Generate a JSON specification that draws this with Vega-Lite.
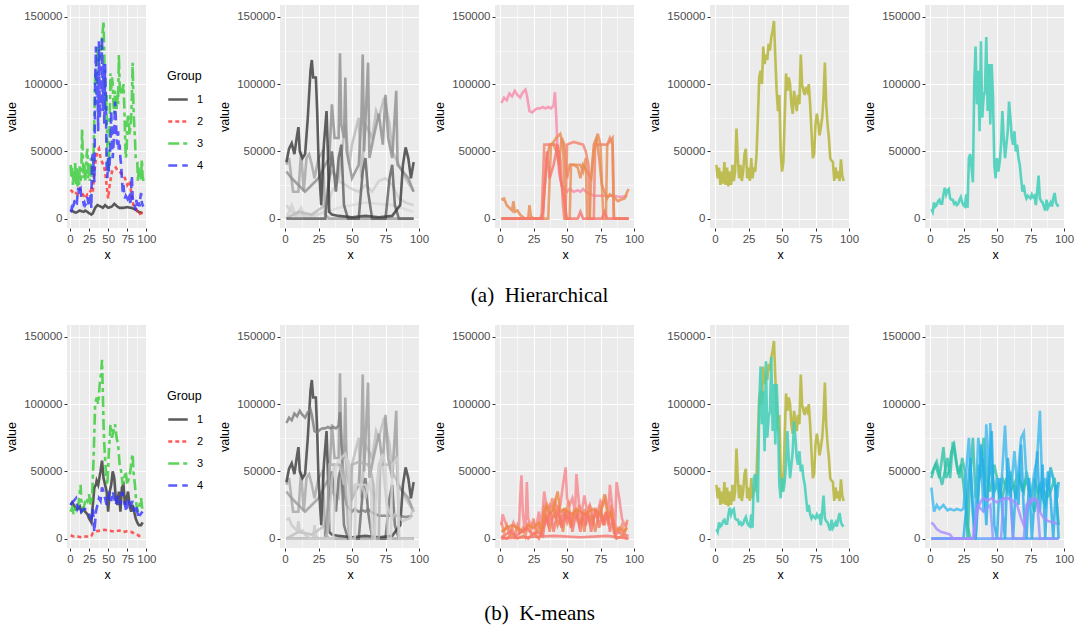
{
"$schema": "https://vega.github.io/schema/vega-lite/v6.json",
"background": "white",
"padding": {"left": 5, "top": 5, "right": 3, "bottom": 5},
"datasets": {"d": [
{"s":"h1","x":1,"v":5000},{"s":"h1","x":3,"v":6000},{"s":"h1","x":5,"v":5000},{"s":"h1","x":8,"v":4500},{"s":"h1","x":10,"v":5000},{"s":"h1","x":13,"v":6000},{"s":"h1","x":15,"v":5500},{"s":"h1","x":18,"v":5000},{"s":"h1","x":20,"v":6000},{"s":"h1","x":23,"v":5000},{"s":"h1","x":25,"v":4000},{"s":"h1","x":28,"v":3000},{"s":"h1","x":30,"v":4000},{"s":"h1","x":33,"v":8000},{"s":"h1","x":36,"v":10000},{"s":"h1","x":40,"v":9000},{"s":"h1","x":43,"v":8000},{"s":"h1","x":46,"v":10000},{"s":"h1","x":50,"v":8000},{"s":"h1","x":55,"v":9000},{"s":"h1","x":58,"v":11000},{"s":"h1","x":62,"v":9000},{"s":"h1","x":65,"v":8000},{"s":"h1","x":70,"v":8000},{"s":"h1","x":75,"v":8500},{"s":"h1","x":80,"v":8000},{"s":"h1","x":85,"v":7000},{"s":"h1","x":90,"v":5000},{"s":"h1","x":95,"v":4000},
{"s":"h2","x":1,"v":21500},{"s":"h2","x":3,"v":20000},{"s":"h2","x":5,"v":21000},{"s":"h2","x":8,"v":19000},{"s":"h2","x":10,"v":18000},{"s":"h2","x":13,"v":22000},{"s":"h2","x":15,"v":20000},{"s":"h2","x":18,"v":17000},{"s":"h2","x":20,"v":15000},{"s":"h2","x":23,"v":18000},{"s":"h2","x":25,"v":18000},{"s":"h2","x":28,"v":22000},{"s":"h2","x":30,"v":20000},{"s":"h2","x":32,"v":35000},{"s":"h2","x":34,"v":45000},{"s":"h2","x":36,"v":50000},{"s":"h2","x":38,"v":52000},{"s":"h2","x":40,"v":45000},{"s":"h2","x":42,"v":42000},{"s":"h2","x":44,"v":40000},{"s":"h2","x":46,"v":35000},{"s":"h2","x":48,"v":25000},{"s":"h2","x":50,"v":15000},{"s":"h2","x":52,"v":25000},{"s":"h2","x":55,"v":35000},{"s":"h2","x":58,"v":37000},{"s":"h2","x":60,"v":38000},{"s":"h2","x":62,"v":36000},{"s":"h2","x":65,"v":35000},{"s":"h2","x":68,"v":33000},{"s":"h2","x":70,"v":32000},{"s":"h2","x":72,"v":30000},{"s":"h2","x":75,"v":25000},{"s":"h2","x":78,"v":28000},{"s":"h2","x":80,"v":20000},{"s":"h2","x":83,"v":10000},{"s":"h2","x":86,"v":8000},{"s":"h2","x":90,"v":3000},{"s":"h2","x":93,"v":4000},{"s":"h2","x":95,"v":5000},
{"s":"o","x":1,"v":40000},{"s":"o","x":2,"v":30000},{"s":"o","x":3,"v":38000},{"s":"o","x":4,"v":25000},{"s":"o","x":5,"v":35000},{"s":"o","x":6,"v":26000},{"s":"o","x":7,"v":42000},{"s":"o","x":8,"v":25000},{"s":"o","x":9,"v":38000},{"s":"o","x":10,"v":24000},{"s":"o","x":11,"v":35000},{"s":"o","x":12,"v":25000},{"s":"o","x":13,"v":40000},{"s":"o","x":14,"v":28000},{"s":"o","x":15,"v":35000},{"s":"o","x":16,"v":67000},{"s":"o","x":17,"v":45000},{"s":"o","x":18,"v":30000},{"s":"o","x":19,"v":40000},{"s":"o","x":20,"v":28000},{"s":"o","x":21,"v":35000},{"s":"o","x":22,"v":48000},{"s":"o","x":23,"v":52000},{"s":"o","x":24,"v":30000},{"s":"o","x":25,"v":38000},{"s":"o","x":26,"v":28000},{"s":"o","x":27,"v":45000},{"s":"o","x":28,"v":30000},{"s":"o","x":29,"v":38000},{"s":"o","x":30,"v":35000},{"s":"o","x":31,"v":48000},{"s":"o","x":32,"v":75000},{"s":"o","x":33,"v":105000},{"s":"o","x":34,"v":110000},{"s":"o","x":35,"v":100000},{"s":"o","x":36,"v":128000},{"s":"o","x":37,"v":115000},{"s":"o","x":38,"v":122000},{"s":"o","x":39,"v":118000},{"s":"o","x":40,"v":130000},{"s":"o","x":41,"v":125000},{"s":"o","x":42,"v":135000},{"s":"o","x":43,"v":140000},{"s":"o","x":44,"v":147000},{"s":"o","x":45,"v":120000},{"s":"o","x":46,"v":95000},{"s":"o","x":47,"v":80000},{"s":"o","x":48,"v":92000},{"s":"o","x":49,"v":50000},{"s":"o","x":50,"v":35000},{"s":"o","x":51,"v":42000},{"s":"o","x":52,"v":75000},{"s":"o","x":53,"v":108000},{"s":"o","x":54,"v":95000},{"s":"o","x":55,"v":105000},{"s":"o","x":56,"v":100000},{"s":"o","x":57,"v":85000},{"s":"o","x":58,"v":78000},{"s":"o","x":59,"v":95000},{"s":"o","x":60,"v":88000},{"s":"o","x":61,"v":80000},{"s":"o","x":62,"v":92000},{"s":"o","x":63,"v":85000},{"s":"o","x":64,"v":122000},{"s":"o","x":65,"v":100000},{"s":"o","x":66,"v":95000},{"s":"o","x":67,"v":92000},{"s":"o","x":68,"v":98000},{"s":"o","x":69,"v":95000},{"s":"o","x":70,"v":100000},{"s":"o","x":71,"v":85000},{"s":"o","x":72,"v":65000},{"s":"o","x":73,"v":45000},{"s":"o","x":74,"v":48000},{"s":"o","x":75,"v":70000},{"s":"o","x":76,"v":78000},{"s":"o","x":77,"v":72000},{"s":"o","x":78,"v":62000},{"s":"o","x":79,"v":68000},{"s":"o","x":80,"v":75000},{"s":"o","x":81,"v":90000},{"s":"o","x":82,"v":116000},{"s":"o","x":83,"v":85000},{"s":"o","x":84,"v":70000},{"s":"o","x":85,"v":60000},{"s":"o","x":86,"v":45000},{"s":"o","x":87,"v":43000},{"s":"o","x":88,"v":42000},{"s":"o","x":89,"v":28000},{"s":"o","x":90,"v":38000},{"s":"o","x":91,"v":30000},{"s":"o","x":92,"v":35000},{"s":"o","x":93,"v":28000},{"s":"o","x":94,"v":44000},{"s":"o","x":95,"v":32000},{"s":"o","x":96,"v":28000},
{"s":"t","x":1,"v":7000},{"s":"t","x":2,"v":5000},{"s":"t","x":3,"v":12000},{"s":"t","x":4,"v":9000},{"s":"t","x":5,"v":10000},{"s":"t","x":6,"v":13000},{"s":"t","x":7,"v":14000},{"s":"t","x":8,"v":11000},{"s":"t","x":9,"v":11000},{"s":"t","x":10,"v":18000},{"s":"t","x":11,"v":23000},{"s":"t","x":12,"v":18000},{"s":"t","x":13,"v":21000},{"s":"t","x":14,"v":22000},{"s":"t","x":15,"v":15000},{"s":"t","x":16,"v":14000},{"s":"t","x":17,"v":14000},{"s":"t","x":18,"v":11000},{"s":"t","x":19,"v":12000},{"s":"t","x":20,"v":10000},{"s":"t","x":21,"v":11000},{"s":"t","x":22,"v":14000},{"s":"t","x":23,"v":16000},{"s":"t","x":24,"v":12000},{"s":"t","x":25,"v":10000},{"s":"t","x":26,"v":9000},{"s":"t","x":27,"v":18000},{"s":"t","x":28,"v":8000},{"s":"t","x":29,"v":45000},{"s":"t","x":30,"v":48000},{"s":"t","x":31,"v":38000},{"s":"t","x":32,"v":27000},{"s":"t","x":33,"v":100000},{"s":"t","x":34,"v":128000},{"s":"t","x":35,"v":85000},{"s":"t","x":36,"v":110000},{"s":"t","x":37,"v":65000},{"s":"t","x":38,"v":132000},{"s":"t","x":39,"v":75000},{"s":"t","x":40,"v":90000},{"s":"t","x":41,"v":95000},{"s":"t","x":42,"v":135000},{"s":"t","x":43,"v":80000},{"s":"t","x":44,"v":115000},{"s":"t","x":45,"v":70000},{"s":"t","x":46,"v":115000},{"s":"t","x":47,"v":90000},{"s":"t","x":48,"v":40000},{"s":"t","x":49,"v":30000},{"s":"t","x":50,"v":45000},{"s":"t","x":51,"v":35000},{"s":"t","x":52,"v":42000},{"s":"t","x":53,"v":55000},{"s":"t","x":54,"v":80000},{"s":"t","x":55,"v":60000},{"s":"t","x":56,"v":45000},{"s":"t","x":57,"v":55000},{"s":"t","x":58,"v":65000},{"s":"t","x":59,"v":87000},{"s":"t","x":60,"v":75000},{"s":"t","x":61,"v":60000},{"s":"t","x":62,"v":55000},{"s":"t","x":63,"v":65000},{"s":"t","x":64,"v":50000},{"s":"t","x":65,"v":55000},{"s":"t","x":66,"v":45000},{"s":"t","x":67,"v":40000},{"s":"t","x":68,"v":30000},{"s":"t","x":69,"v":20000},{"s":"t","x":70,"v":25000},{"s":"t","x":71,"v":18000},{"s":"t","x":72,"v":15000},{"s":"t","x":73,"v":17000},{"s":"t","x":74,"v":16000},{"s":"t","x":75,"v":15000},{"s":"t","x":76,"v":18000},{"s":"t","x":77,"v":16000},{"s":"t","x":78,"v":17000},{"s":"t","x":79,"v":10000},{"s":"t","x":80,"v":20000},{"s":"t","x":81,"v":32000},{"s":"t","x":82,"v":15000},{"s":"t","x":83,"v":13000},{"s":"t","x":84,"v":12000},{"s":"t","x":85,"v":9000},{"s":"t","x":86,"v":6000},{"s":"t","x":87,"v":14000},{"s":"t","x":88,"v":8000},{"s":"t","x":89,"v":10000},{"s":"t","x":90,"v":12000},{"s":"t","x":91,"v":9000},{"s":"t","x":92,"v":15000},{"s":"t","x":93,"v":19000},{"s":"t","x":94,"v":12000},{"s":"t","x":95,"v":10000},{"s":"t","x":96,"v":9000},
{"s":"k1","x":1,"v":25000},{"s":"k1","x":3,"v":27000},{"s":"k1","x":5,"v":25000},{"s":"k1","x":8,"v":22000},{"s":"k1","x":10,"v":22000},{"s":"k1","x":13,"v":24000},{"s":"k1","x":15,"v":20000},{"s":"k1","x":18,"v":22000},{"s":"k1","x":20,"v":20000},{"s":"k1","x":23,"v":18000},{"s":"k1","x":25,"v":15000},{"s":"k1","x":28,"v":12000},{"s":"k1","x":30,"v":25000},{"s":"k1","x":32,"v":38000},{"s":"k1","x":34,"v":40000},{"s":"k1","x":35,"v":43000},{"s":"k1","x":37,"v":40000},{"s":"k1","x":40,"v":50000},{"s":"k1","x":42,"v":58000},{"s":"k1","x":44,"v":45000},{"s":"k1","x":46,"v":40000},{"s":"k1","x":48,"v":35000},{"s":"k1","x":50,"v":20000},{"s":"k1","x":52,"v":35000},{"s":"k1","x":54,"v":40000},{"s":"k1","x":56,"v":50000},{"s":"k1","x":58,"v":45000},{"s":"k1","x":60,"v":30000},{"s":"k1","x":62,"v":25000},{"s":"k1","x":64,"v":35000},{"s":"k1","x":66,"v":20000},{"s":"k1","x":68,"v":38000},{"s":"k1","x":70,"v":40000},{"s":"k1","x":72,"v":25000},{"s":"k1","x":74,"v":30000},{"s":"k1","x":76,"v":35000},{"s":"k1","x":78,"v":25000},{"s":"k1","x":80,"v":20000},{"s":"k1","x":82,"v":25000},{"s":"k1","x":84,"v":20000},{"s":"k1","x":86,"v":15000},{"s":"k1","x":88,"v":12000},{"s":"k1","x":90,"v":10000},{"s":"k1","x":93,"v":10000},{"s":"k1","x":95,"v":12000},
{"s":"k2","x":1,"v":2500},{"s":"k2","x":5,"v":1500},{"s":"k2","x":10,"v":1500},{"s":"k2","x":15,"v":1000},{"s":"k2","x":20,"v":1500},{"s":"k2","x":25,"v":1500},{"s":"k2","x":28,"v":2000},{"s":"k2","x":30,"v":4000},{"s":"k2","x":33,"v":5000},{"s":"k2","x":35,"v":5500},{"s":"k2","x":40,"v":6000},{"s":"k2","x":45,"v":6500},{"s":"k2","x":50,"v":6000},{"s":"k2","x":55,"v":5500},{"s":"k2","x":60,"v":5500},{"s":"k2","x":65,"v":6000},{"s":"k2","x":70,"v":5000},{"s":"k2","x":75,"v":5500},{"s":"k2","x":80,"v":5000},{"s":"k2","x":85,"v":3500},{"s":"k2","x":88,"v":3000},{"s":"k2","x":90,"v":2000},{"s":"k2","x":95,"v":2000},
{"s":"k3","x":1,"v":20000},{"s":"k3","x":3,"v":23000},{"s":"k3","x":5,"v":18000},{"s":"k3","x":7,"v":22000},{"s":"k3","x":9,"v":20000},{"s":"k3","x":11,"v":25000},{"s":"k3","x":13,"v":35000},{"s":"k3","x":14,"v":40000},{"s":"k3","x":15,"v":28000},{"s":"k3","x":17,"v":22000},{"s":"k3","x":19,"v":25000},{"s":"k3","x":21,"v":30000},{"s":"k3","x":23,"v":28000},{"s":"k3","x":25,"v":33000},{"s":"k3","x":27,"v":25000},{"s":"k3","x":29,"v":30000},{"s":"k3","x":31,"v":60000},{"s":"k3","x":32,"v":80000},{"s":"k3","x":33,"v":100000},{"s":"k3","x":35,"v":105000},{"s":"k3","x":37,"v":100000},{"s":"k3","x":39,"v":115000},{"s":"k3","x":41,"v":125000},{"s":"k3","x":42,"v":133000},{"s":"k3","x":43,"v":110000},{"s":"k3","x":44,"v":85000},{"s":"k3","x":45,"v":70000},{"s":"k3","x":47,"v":50000},{"s":"k3","x":49,"v":40000},{"s":"k3","x":51,"v":65000},{"s":"k3","x":53,"v":85000},{"s":"k3","x":55,"v":75000},{"s":"k3","x":57,"v":80000},{"s":"k3","x":59,"v":85000},{"s":"k3","x":61,"v":75000},{"s":"k3","x":63,"v":70000},{"s":"k3","x":65,"v":55000},{"s":"k3","x":67,"v":50000},{"s":"k3","x":69,"v":40000},{"s":"k3","x":71,"v":45000},{"s":"k3","x":73,"v":50000},{"s":"k3","x":75,"v":40000},{"s":"k3","x":77,"v":45000},{"s":"k3","x":79,"v":50000},{"s":"k3","x":81,"v":60000},{"s":"k3","x":82,"v":63000},{"s":"k3","x":83,"v":50000},{"s":"k3","x":85,"v":40000},{"s":"k3","x":87,"v":25000},{"s":"k3","x":89,"v":20000},{"s":"k3","x":91,"v":25000},{"s":"k3","x":93,"v":30000},{"s":"k3","x":95,"v":20000},
{"s":"k4","x":1,"v":25000},{"s":"k4","x":5,"v":28000},{"s":"k4","x":8,"v":30000},{"s":"k4","x":10,"v":22000},{"s":"k4","x":13,"v":25000},{"s":"k4","x":15,"v":20000},{"s":"k4","x":18,"v":22000},{"s":"k4","x":20,"v":22000},{"s":"k4","x":22,"v":20000},{"s":"k4","x":25,"v":18000},{"s":"k4","x":28,"v":15000},{"s":"k4","x":30,"v":22000},{"s":"k4","x":32,"v":5000},{"s":"k4","x":34,"v":20000},{"s":"k4","x":36,"v":25000},{"s":"k4","x":38,"v":30000},{"s":"k4","x":40,"v":28000},{"s":"k4","x":42,"v":38000},{"s":"k4","x":44,"v":35000},{"s":"k4","x":46,"v":30000},{"s":"k4","x":48,"v":25000},{"s":"k4","x":50,"v":30000},{"s":"k4","x":52,"v":35000},{"s":"k4","x":54,"v":28000},{"s":"k4","x":56,"v":35000},{"s":"k4","x":58,"v":30000},{"s":"k4","x":60,"v":25000},{"s":"k4","x":62,"v":30000},{"s":"k4","x":64,"v":32000},{"s":"k4","x":66,"v":25000},{"s":"k4","x":68,"v":35000},{"s":"k4","x":70,"v":30000},{"s":"k4","x":72,"v":25000},{"s":"k4","x":74,"v":20000},{"s":"k4","x":76,"v":28000},{"s":"k4","x":78,"v":30000},{"s":"k4","x":80,"v":25000},{"s":"k4","x":82,"v":28000},{"s":"k4","x":84,"v":20000},{"s":"k4","x":86,"v":25000},{"s":"k4","x":88,"v":20000},{"s":"k4","x":90,"v":15000},{"s":"k4","x":92,"v":18000},{"s":"k4","x":95,"v":20000},
{"s":"gd","x":1,"v":10000},{"s":"gd","x":5,"v":5000},{"s":"gd","x":10,"v":3000},{"s":"gd","x":20,"v":2000},{"s":"gd","x":30,"v":5000},{"s":"gd","x":35,"v":20000},{"s":"gd","x":40,"v":28000},{"s":"gd","x":45,"v":25000},{"s":"gd","x":50,"v":22000},{"s":"gd","x":55,"v":20000},{"s":"gd","x":60,"v":25000},{"s":"gd","x":65,"v":20000},{"s":"gd","x":70,"v":28000},{"s":"gd","x":75,"v":30000},{"s":"gd","x":80,"v":25000},{"s":"gd","x":85,"v":15000},{"s":"gd","x":90,"v":12000},{"s":"gd","x":96,"v":10000},
{"s":"gf","x":1,"v":3000},{"s":"gf","x":20,"v":1000},{"s":"gf","x":40,"v":8000},{"s":"gf","x":60,"v":12000},{"s":"gf","x":80,"v":10000},{"s":"gf","x":96,"v":5000},
{"s":"gh","x":1,"v":0},{"s":"gh","x":5,"v":10000},{"s":"gh","x":8,"v":2000},{"s":"gh","x":12,"v":8000},{"s":"gh","x":15,"v":0},{"s":"gh","x":96,"v":0},
{"s":"gc","x":1,"v":0},{"s":"gc","x":10,"v":5000},{"s":"gc","x":20,"v":3000},{"s":"gc","x":30,"v":10000},{"s":"gc","x":33,"v":30000},{"s":"gc","x":35,"v":35000},{"s":"gc","x":40,"v":30000},{"s":"gc","x":45,"v":70000},{"s":"gc","x":48,"v":40000},{"s":"gc","x":50,"v":55000},{"s":"gc","x":55,"v":75000},{"s":"gc","x":57,"v":30000},{"s":"gc","x":60,"v":70000},{"s":"gc","x":65,"v":60000},{"s":"gc","x":68,"v":80000},{"s":"gc","x":70,"v":75000},{"s":"gc","x":74,"v":90000},{"s":"gc","x":76,"v":80000},{"s":"gc","x":78,"v":70000},{"s":"gc","x":80,"v":50000},{"s":"gc","x":85,"v":40000},{"s":"gc","x":90,"v":30000},{"s":"gc","x":96,"v":20000},
{"s":"ge","x":1,"v":40000},{"s":"ge","x":3,"v":45000},{"s":"ge","x":6,"v":20000},{"s":"ge","x":10,"v":20000},{"s":"ge","x":12,"v":50000},{"s":"ge","x":14,"v":20000},{"s":"ge","x":16,"v":45000},{"s":"ge","x":18,"v":48000},{"s":"ge","x":20,"v":40000},{"s":"ge","x":22,"v":30000},{"s":"ge","x":25,"v":45000},{"s":"ge","x":28,"v":50000},{"s":"ge","x":30,"v":3000},{"s":"ge","x":33,"v":0},{"s":"ge","x":40,"v":0},{"s":"ge","x":60,"v":0},{"s":"ge","x":96,"v":0},
{"s":"gb","x":1,"v":35000},{"s":"gb","x":5,"v":30000},{"s":"gb","x":10,"v":25000},{"s":"gb","x":15,"v":20000},{"s":"gb","x":20,"v":25000},{"s":"gb","x":25,"v":30000},{"s":"gb","x":30,"v":40000},{"s":"gb","x":33,"v":45000},{"s":"gb","x":35,"v":85000},{"s":"gb","x":37,"v":60000},{"s":"gb","x":40,"v":60000},{"s":"gb","x":41,"v":123000},{"s":"gb","x":42,"v":70000},{"s":"gb","x":44,"v":60000},{"s":"gb","x":45,"v":105000},{"s":"gb","x":46,"v":50000},{"s":"gb","x":50,"v":30000},{"s":"gb","x":55,"v":40000},{"s":"gb","x":57,"v":75000},{"s":"gb","x":58,"v":122000},{"s":"gb","x":59,"v":50000},{"s":"gb","x":62,"v":116000},{"s":"gb","x":63,"v":45000},{"s":"gb","x":66,"v":60000},{"s":"gb","x":70,"v":78000},{"s":"gb","x":73,"v":55000},{"s":"gb","x":75,"v":92000},{"s":"gb","x":77,"v":60000},{"s":"gb","x":80,"v":45000},{"s":"gb","x":83,"v":95000},{"s":"gb","x":84,"v":40000},{"s":"gb","x":88,"v":35000},{"s":"gb","x":92,"v":30000},{"s":"gb","x":96,"v":20000},
{"s":"gg","x":1,"v":0},{"s":"gg","x":30,"v":0},{"s":"gg","x":33,"v":30000},{"s":"gg","x":35,"v":50000},{"s":"gg","x":38,"v":20000},{"s":"gg","x":40,"v":45000},{"s":"gg","x":42,"v":55000},{"s":"gg","x":44,"v":10000},{"s":"gg","x":47,"v":0},{"s":"gg","x":55,"v":0},{"s":"gg","x":58,"v":35000},{"s":"gg","x":60,"v":45000},{"s":"gg","x":62,"v":20000},{"s":"gg","x":65,"v":0},{"s":"gg","x":75,"v":0},{"s":"gg","x":78,"v":30000},{"s":"gg","x":80,"v":40000},{"s":"gg","x":82,"v":10000},{"s":"gg","x":85,"v":0},{"s":"gg","x":96,"v":0},
{"s":"ga","x":1,"v":42000},{"s":"ga","x":3,"v":52000},{"s":"ga","x":5,"v":56000},{"s":"ga","x":7,"v":48000},{"s":"ga","x":9,"v":62000},{"s":"ga","x":10,"v":68000},{"s":"ga","x":11,"v":50000},{"s":"ga","x":13,"v":45000},{"s":"ga","x":15,"v":48000},{"s":"ga","x":17,"v":75000},{"s":"ga","x":19,"v":110000},{"s":"ga","x":20,"v":118000},{"s":"ga","x":21,"v":105000},{"s":"ga","x":23,"v":105000},{"s":"ga","x":24,"v":80000},{"s":"ga","x":25,"v":45000},{"s":"ga","x":27,"v":10000},{"s":"ga","x":29,"v":55000},{"s":"ga","x":31,"v":80000},{"s":"ga","x":32,"v":50000},{"s":"ga","x":33,"v":5000},{"s":"ga","x":35,"v":3000},{"s":"ga","x":40,"v":2000},{"s":"ga","x":50,"v":1000},{"s":"ga","x":60,"v":2000},{"s":"ga","x":70,"v":1000},{"s":"ga","x":80,"v":2000},{"s":"ga","x":86,"v":10000},{"s":"ga","x":88,"v":40000},{"s":"ga","x":90,"v":53000},{"s":"ga","x":92,"v":45000},{"s":"ga","x":94,"v":30000},{"s":"ga","x":96,"v":42000},
{"s":"p1","x":1,"v":86000},{"s":"p1","x":3,"v":90000},{"s":"p1","x":5,"v":88000},{"s":"p1","x":7,"v":93000},{"s":"p1","x":9,"v":91000},{"s":"p1","x":11,"v":95000},{"s":"p1","x":13,"v":92000},{"s":"p1","x":15,"v":90000},{"s":"p1","x":17,"v":94000},{"s":"p1","x":19,"v":96000},{"s":"p1","x":20,"v":92000},{"s":"p1","x":22,"v":80000},{"s":"p1","x":24,"v":79000},{"s":"p1","x":26,"v":81000},{"s":"p1","x":28,"v":82000},{"s":"p1","x":30,"v":82000},{"s":"p1","x":32,"v":83000},{"s":"p1","x":34,"v":82000},{"s":"p1","x":36,"v":83000},{"s":"p1","x":38,"v":82000},{"s":"p1","x":40,"v":84000},{"s":"p1","x":41,"v":94000},{"s":"p1","x":42,"v":75000},{"s":"p1","x":43,"v":50000},{"s":"p1","x":44,"v":35000},{"s":"p1","x":46,"v":25000},{"s":"p1","x":48,"v":22000},{"s":"p1","x":50,"v":20000},{"s":"p1","x":52,"v":22000},{"s":"p1","x":55,"v":20000},{"s":"p1","x":58,"v":21000},{"s":"p1","x":60,"v":20000},{"s":"p1","x":62,"v":22000},{"s":"p1","x":64,"v":20000},{"s":"p1","x":66,"v":19000},{"s":"p1","x":68,"v":18000},{"s":"p1","x":70,"v":17000},{"s":"p1","x":75,"v":17000},{"s":"p1","x":80,"v":17000},{"s":"p1","x":85,"v":17000},{"s":"p1","x":90,"v":16000},{"s":"p1","x":95,"v":17000},
{"s":"p2","x":1,"v":14000},{"s":"p2","x":3,"v":15000},{"s":"p2","x":5,"v":10000},{"s":"p2","x":7,"v":8000},{"s":"p2","x":9,"v":6000},{"s":"p2","x":10,"v":13000},{"s":"p2","x":11,"v":5000},{"s":"p2","x":13,"v":6000},{"s":"p2","x":15,"v":3000},{"s":"p2","x":17,"v":1000},{"s":"p2","x":19,"v":0},{"s":"p2","x":21,"v":0},{"s":"p2","x":22,"v":10000},{"s":"p2","x":23,"v":2000},{"s":"p2","x":25,"v":0},{"s":"p2","x":30,"v":0},{"s":"p2","x":32,"v":5000},{"s":"p2","x":34,"v":30000},{"s":"p2","x":35,"v":45000},{"s":"p2","x":37,"v":55000},{"s":"p2","x":40,"v":55000},{"s":"p2","x":42,"v":50000},{"s":"p2","x":44,"v":40000},{"s":"p2","x":46,"v":60000},{"s":"p2","x":48,"v":55000},{"s":"p2","x":50,"v":30000},{"s":"p2","x":52,"v":40000},{"s":"p2","x":55,"v":40000},{"s":"p2","x":58,"v":38000},{"s":"p2","x":60,"v":30000},{"s":"p2","x":62,"v":40000},{"s":"p2","x":65,"v":35000},{"s":"p2","x":68,"v":30000},{"s":"p2","x":70,"v":55000},{"s":"p2","x":72,"v":60000},{"s":"p2","x":74,"v":45000},{"s":"p2","x":76,"v":25000},{"s":"p2","x":78,"v":20000},{"s":"p2","x":80,"v":15000},{"s":"p2","x":82,"v":18000},{"s":"p2","x":85,"v":16000},{"s":"p2","x":88,"v":13000},{"s":"p2","x":90,"v":14000},{"s":"p2","x":93,"v":15000},{"s":"p2","x":95,"v":20000},{"s":"p2","x":96,"v":22000},
{"s":"p3","x":1,"v":0},{"s":"p3","x":31,"v":0},{"s":"p3","x":32,"v":28000},{"s":"p3","x":33,"v":55000},{"s":"p3","x":38,"v":55000},{"s":"p3","x":42,"v":55000},{"s":"p3","x":45,"v":45000},{"s":"p3","x":47,"v":10000},{"s":"p3","x":48,"v":0},{"s":"p3","x":49,"v":0},{"s":"p3","x":50,"v":55000},{"s":"p3","x":55,"v":57000},{"s":"p3","x":62,"v":55000},{"s":"p3","x":64,"v":50000},{"s":"p3","x":66,"v":40000},{"s":"p3","x":67,"v":0},{"s":"p3","x":70,"v":0},{"s":"p3","x":71,"v":55000},{"s":"p3","x":80,"v":55000},{"s":"p3","x":82,"v":60000},{"s":"p3","x":84,"v":55000},{"s":"p3","x":85,"v":0},{"s":"p3","x":96,"v":0},
{"s":"p4","x":1,"v":0},{"s":"p4","x":36,"v":0},{"s":"p4","x":38,"v":55000},{"s":"p4","x":40,"v":57000},{"s":"p4","x":42,"v":60000},{"s":"p4","x":45,"v":63000},{"s":"p4","x":47,"v":55000},{"s":"p4","x":49,"v":0},{"s":"p4","x":52,"v":0},{"s":"p4","x":53,"v":40000},{"s":"p4","x":58,"v":40000},{"s":"p4","x":60,"v":40000},{"s":"p4","x":62,"v":35000},{"s":"p4","x":64,"v":45000},{"s":"p4","x":65,"v":0},{"s":"p4","x":67,"v":0},{"s":"p4","x":68,"v":30000},{"s":"p4","x":70,"v":50000},{"s":"p4","x":73,"v":63000},{"s":"p4","x":75,"v":55000},{"s":"p4","x":77,"v":0},{"s":"p4","x":79,"v":0},{"s":"p4","x":80,"v":55000},{"s":"p4","x":84,"v":60000},{"s":"p4","x":85,"v":0},{"s":"p4","x":96,"v":0},
{"s":"p5","x":1,"v":0},{"s":"p5","x":32,"v":0},{"s":"p5","x":33,"v":20000},{"s":"p5","x":35,"v":50000},{"s":"p5","x":37,"v":30000},{"s":"p5","x":40,"v":40000},{"s":"p5","x":43,"v":55000},{"s":"p5","x":45,"v":30000},{"s":"p5","x":47,"v":20000},{"s":"p5","x":50,"v":0},{"s":"p5","x":58,"v":0},{"s":"p5","x":60,"v":5000},{"s":"p5","x":62,"v":0},{"s":"p5","x":76,"v":0},{"s":"p5","x":78,"v":5000},{"s":"p5","x":80,"v":0},{"s":"p5","x":96,"v":0},
{"s":"q1","x":1,"v":10000},{"s":"q1","x":2,"v":18000},{"s":"q1","x":4,"v":12000},{"s":"q1","x":6,"v":8000},{"s":"q1","x":8,"v":5000},{"s":"q1","x":10,"v":12000},{"s":"q1","x":12,"v":8000},{"s":"q1","x":14,"v":5000},{"s":"q1","x":15,"v":30000},{"s":"q1","x":16,"v":47000},{"s":"q1","x":17,"v":20000},{"s":"q1","x":18,"v":10000},{"s":"q1","x":19,"v":5000},{"s":"q1","x":20,"v":42000},{"s":"q1","x":21,"v":15000},{"s":"q1","x":23,"v":10000},{"s":"q1","x":25,"v":12000},{"s":"q1","x":27,"v":8000},{"s":"q1","x":29,"v":20000},{"s":"q1","x":31,"v":10000},{"s":"q1","x":33,"v":35000},{"s":"q1","x":35,"v":20000},{"s":"q1","x":37,"v":25000},{"s":"q1","x":39,"v":22000},{"s":"q1","x":41,"v":28000},{"s":"q1","x":43,"v":20000},{"s":"q1","x":45,"v":25000},{"s":"q1","x":47,"v":40000},{"s":"q1","x":49,"v":53000},{"s":"q1","x":50,"v":30000},{"s":"q1","x":52,"v":25000},{"s":"q1","x":54,"v":30000},{"s":"q1","x":56,"v":20000},{"s":"q1","x":57,"v":48000},{"s":"q1","x":59,"v":25000},{"s":"q1","x":61,"v":20000},{"s":"q1","x":63,"v":32000},{"s":"q1","x":65,"v":20000},{"s":"q1","x":67,"v":25000},{"s":"q1","x":69,"v":18000},{"s":"q1","x":71,"v":22000},{"s":"q1","x":73,"v":20000},{"s":"q1","x":75,"v":28000},{"s":"q1","x":77,"v":25000},{"s":"q1","x":79,"v":30000},{"s":"q1","x":81,"v":20000},{"s":"q1","x":82,"v":40000},{"s":"q1","x":84,"v":22000},{"s":"q1","x":86,"v":10000},{"s":"q1","x":87,"v":42000},{"s":"q1","x":89,"v":30000},{"s":"q1","x":91,"v":15000},{"s":"q1","x":93,"v":10000},{"s":"q1","x":95,"v":12000},
{"s":"q5","x":1,"v":12000},{"s":"q5","x":3,"v":5000},{"s":"q5","x":5,"v":10000},{"s":"q5","x":7,"v":3000},{"s":"q5","x":9,"v":8000},{"s":"q5","x":11,"v":2000},{"s":"q5","x":13,"v":10000},{"s":"q5","x":15,"v":5000},{"s":"q5","x":17,"v":8000},{"s":"q5","x":19,"v":2000},{"s":"q5","x":21,"v":12000},{"s":"q5","x":23,"v":5000},{"s":"q5","x":25,"v":15000},{"s":"q5","x":27,"v":3000},{"s":"q5","x":29,"v":10000},{"s":"q5","x":31,"v":2000},{"s":"q5","x":33,"v":25000},{"s":"q5","x":35,"v":12000},{"s":"q5","x":37,"v":20000},{"s":"q5","x":39,"v":30000},{"s":"q5","x":41,"v":15000},{"s":"q5","x":43,"v":25000},{"s":"q5","x":45,"v":10000},{"s":"q5","x":47,"v":22000},{"s":"q5","x":49,"v":15000},{"s":"q5","x":51,"v":28000},{"s":"q5","x":53,"v":10000},{"s":"q5","x":55,"v":20000},{"s":"q5","x":57,"v":15000},{"s":"q5","x":59,"v":25000},{"s":"q5","x":61,"v":10000},{"s":"q5","x":63,"v":22000},{"s":"q5","x":65,"v":15000},{"s":"q5","x":67,"v":25000},{"s":"q5","x":69,"v":10000},{"s":"q5","x":71,"v":20000},{"s":"q5","x":73,"v":15000},{"s":"q5","x":75,"v":25000},{"s":"q5","x":77,"v":12000},{"s":"q5","x":79,"v":20000},{"s":"q5","x":81,"v":10000},{"s":"q5","x":83,"v":25000},{"s":"q5","x":85,"v":12000},{"s":"q5","x":87,"v":8000},{"s":"q5","x":89,"v":5000},{"s":"q5","x":91,"v":10000},{"s":"q5","x":93,"v":3000},{"s":"q5","x":95,"v":14000},
{"s":"q2","x":1,"v":5000},{"s":"q2","x":5,"v":8000},{"s":"q2","x":9,"v":10000},{"s":"q2","x":13,"v":8000},{"s":"q2","x":17,"v":5000},{"s":"q2","x":21,"v":10000},{"s":"q2","x":25,"v":8000},{"s":"q2","x":29,"v":12000},{"s":"q2","x":31,"v":5000},{"s":"q2","x":33,"v":20000},{"s":"q2","x":35,"v":25000},{"s":"q2","x":37,"v":18000},{"s":"q2","x":40,"v":22000},{"s":"q2","x":43,"v":35000},{"s":"q2","x":45,"v":20000},{"s":"q2","x":48,"v":22000},{"s":"q2","x":51,"v":20000},{"s":"q2","x":54,"v":18000},{"s":"q2","x":57,"v":22000},{"s":"q2","x":60,"v":20000},{"s":"q2","x":63,"v":18000},{"s":"q2","x":66,"v":20000},{"s":"q2","x":69,"v":22000},{"s":"q2","x":72,"v":20000},{"s":"q2","x":75,"v":18000},{"s":"q2","x":78,"v":33000},{"s":"q2","x":80,"v":20000},{"s":"q2","x":83,"v":18000},{"s":"q2","x":86,"v":5000},{"s":"q2","x":89,"v":8000},{"s":"q2","x":92,"v":5000},{"s":"q2","x":95,"v":8000},
{"s":"q4","x":1,"v":2000},{"s":"q4","x":5,"v":0},{"s":"q4","x":9,"v":3000},{"s":"q4","x":13,"v":0},{"s":"q4","x":17,"v":2000},{"s":"q4","x":21,"v":0},{"s":"q4","x":25,"v":4000},{"s":"q4","x":29,"v":0},{"s":"q4","x":33,"v":10000},{"s":"q4","x":35,"v":18000},{"s":"q4","x":37,"v":5000},{"s":"q4","x":39,"v":15000},{"s":"q4","x":41,"v":20000},{"s":"q4","x":43,"v":10000},{"s":"q4","x":45,"v":15000},{"s":"q4","x":47,"v":5000},{"s":"q4","x":49,"v":20000},{"s":"q4","x":51,"v":15000},{"s":"q4","x":53,"v":8000},{"s":"q4","x":55,"v":18000},{"s":"q4","x":57,"v":20000},{"s":"q4","x":59,"v":10000},{"s":"q4","x":61,"v":15000},{"s":"q4","x":63,"v":5000},{"s":"q4","x":65,"v":20000},{"s":"q4","x":67,"v":12000},{"s":"q4","x":69,"v":18000},{"s":"q4","x":71,"v":5000},{"s":"q4","x":73,"v":15000},{"s":"q4","x":75,"v":20000},{"s":"q4","x":77,"v":10000},{"s":"q4","x":79,"v":18000},{"s":"q4","x":81,"v":15000},{"s":"q4","x":83,"v":20000},{"s":"q4","x":85,"v":5000},{"s":"q4","x":87,"v":0},{"s":"q4","x":91,"v":2000},{"s":"q4","x":95,"v":0},
{"s":"q3","x":1,"v":0},{"s":"q3","x":4,"v":3000},{"s":"q3","x":8,"v":5000},{"s":"q3","x":12,"v":2000},{"s":"q3","x":16,"v":5000},{"s":"q3","x":20,"v":8000},{"s":"q3","x":24,"v":3000},{"s":"q3","x":28,"v":5000},{"s":"q3","x":32,"v":2000},{"s":"q3","x":34,"v":15000},{"s":"q3","x":36,"v":10000},{"s":"q3","x":38,"v":20000},{"s":"q3","x":40,"v":5000},{"s":"q3","x":42,"v":15000},{"s":"q3","x":44,"v":20000},{"s":"q3","x":46,"v":8000},{"s":"q3","x":48,"v":18000},{"s":"q3","x":50,"v":12000},{"s":"q3","x":52,"v":20000},{"s":"q3","x":54,"v":5000},{"s":"q3","x":56,"v":15000},{"s":"q3","x":58,"v":18000},{"s":"q3","x":60,"v":5000},{"s":"q3","x":62,"v":20000},{"s":"q3","x":64,"v":10000},{"s":"q3","x":66,"v":18000},{"s":"q3","x":68,"v":5000},{"s":"q3","x":70,"v":15000},{"s":"q3","x":72,"v":20000},{"s":"q3","x":74,"v":8000},{"s":"q3","x":76,"v":18000},{"s":"q3","x":78,"v":10000},{"s":"q3","x":80,"v":20000},{"s":"q3","x":82,"v":5000},{"s":"q3","x":84,"v":15000},{"s":"q3","x":86,"v":2000},{"s":"q3","x":88,"v":5000},{"s":"q3","x":92,"v":3000},{"s":"q3","x":96,"v":2000},
{"s":"q6","x":1,"v":0},{"s":"q6","x":20,"v":1000},{"s":"q6","x":40,"v":2000},{"s":"q6","x":60,"v":1000},{"s":"q6","x":80,"v":2000},{"s":"q6","x":96,"v":0},
{"s":"c7","x":1,"v":0},{"s":"c7","x":50,"v":0},{"s":"c7","x":96,"v":0},
{"s":"c1","x":1,"v":45000},{"s":"c1","x":3,"v":52000},{"s":"c1","x":5,"v":57000},{"s":"c1","x":7,"v":48000},{"s":"c1","x":9,"v":40000},{"s":"c1","x":11,"v":50000},{"s":"c1","x":13,"v":60000},{"s":"c1","x":15,"v":45000},{"s":"c1","x":17,"v":72000},{"s":"c1","x":19,"v":60000},{"s":"c1","x":21,"v":48000},{"s":"c1","x":23,"v":55000},{"s":"c1","x":25,"v":40000},{"s":"c1","x":27,"v":20000},{"s":"c1","x":28,"v":0},{"s":"c1","x":30,"v":45000},{"s":"c1","x":32,"v":75000},{"s":"c1","x":34,"v":30000},{"s":"c1","x":36,"v":55000},{"s":"c1","x":38,"v":45000},{"s":"c1","x":40,"v":60000},{"s":"c1","x":42,"v":30000},{"s":"c1","x":44,"v":45000},{"s":"c1","x":46,"v":55000},{"s":"c1","x":48,"v":35000},{"s":"c1","x":50,"v":40000},{"s":"c1","x":52,"v":30000},{"s":"c1","x":54,"v":45000},{"s":"c1","x":56,"v":40000},{"s":"c1","x":58,"v":35000},{"s":"c1","x":60,"v":50000},{"s":"c1","x":62,"v":40000},{"s":"c1","x":64,"v":30000},{"s":"c1","x":66,"v":45000},{"s":"c1","x":68,"v":40000},{"s":"c1","x":70,"v":35000},{"s":"c1","x":72,"v":50000},{"s":"c1","x":74,"v":40000},{"s":"c1","x":76,"v":30000},{"s":"c1","x":78,"v":45000},{"s":"c1","x":80,"v":35000},{"s":"c1","x":82,"v":40000},{"s":"c1","x":84,"v":30000},{"s":"c1","x":86,"v":25000},{"s":"c1","x":88,"v":40000},{"s":"c1","x":90,"v":53000},{"s":"c1","x":92,"v":45000},{"s":"c1","x":94,"v":35000},{"s":"c1","x":96,"v":42000},
{"s":"c4","x":1,"v":48000},{"s":"c4","x":4,"v":55000},{"s":"c4","x":7,"v":45000},{"s":"c4","x":10,"v":68000},{"s":"c4","x":12,"v":45000},{"s":"c4","x":14,"v":50000},{"s":"c4","x":16,"v":65000},{"s":"c4","x":18,"v":70000},{"s":"c4","x":20,"v":55000},{"s":"c4","x":22,"v":45000},{"s":"c4","x":24,"v":60000},{"s":"c4","x":26,"v":50000},{"s":"c4","x":28,"v":10000},{"s":"c4","x":30,"v":0},{"s":"c4","x":34,"v":0},{"s":"c4","x":36,"v":40000},{"s":"c4","x":38,"v":50000},{"s":"c4","x":40,"v":75000},{"s":"c4","x":42,"v":45000},{"s":"c4","x":45,"v":35000},{"s":"c4","x":48,"v":55000},{"s":"c4","x":51,"v":40000},{"s":"c4","x":54,"v":30000},{"s":"c4","x":57,"v":45000},{"s":"c4","x":60,"v":35000},{"s":"c4","x":63,"v":40000},{"s":"c4","x":66,"v":50000},{"s":"c4","x":69,"v":35000},{"s":"c4","x":72,"v":45000},{"s":"c4","x":75,"v":30000},{"s":"c4","x":78,"v":20000},{"s":"c4","x":81,"v":35000},{"s":"c4","x":84,"v":40000},{"s":"c4","x":87,"v":30000},{"s":"c4","x":90,"v":35000},{"s":"c4","x":93,"v":45000},{"s":"c4","x":96,"v":10000},
{"s":"c2","x":1,"v":38000},{"s":"c2","x":3,"v":20000},{"s":"c2","x":5,"v":25000},{"s":"c2","x":7,"v":22000},{"s":"c2","x":10,"v":25000},{"s":"c2","x":13,"v":21000},{"s":"c2","x":15,"v":22000},{"s":"c2","x":18,"v":21000},{"s":"c2","x":20,"v":22000},{"s":"c2","x":23,"v":21000},{"s":"c2","x":25,"v":22000},{"s":"c2","x":27,"v":50000},{"s":"c2","x":29,"v":75000},{"s":"c2","x":31,"v":40000},{"s":"c2","x":33,"v":0},{"s":"c2","x":36,"v":75000},{"s":"c2","x":38,"v":60000},{"s":"c2","x":40,"v":20000},{"s":"c2","x":42,"v":85000},{"s":"c2","x":44,"v":40000},{"s":"c2","x":45,"v":86000},{"s":"c2","x":47,"v":30000},{"s":"c2","x":50,"v":45000},{"s":"c2","x":53,"v":35000},{"s":"c2","x":56,"v":84000},{"s":"c2","x":58,"v":40000},{"s":"c2","x":60,"v":30000},{"s":"c2","x":63,"v":65000},{"s":"c2","x":65,"v":40000},{"s":"c2","x":68,"v":75000},{"s":"c2","x":70,"v":79000},{"s":"c2","x":72,"v":45000},{"s":"c2","x":75,"v":30000},{"s":"c2","x":78,"v":50000},{"s":"c2","x":80,"v":60000},{"s":"c2","x":82,"v":95000},{"s":"c2","x":84,"v":30000},{"s":"c2","x":86,"v":45000},{"s":"c2","x":88,"v":35000},{"s":"c2","x":90,"v":50000},{"s":"c2","x":92,"v":45000},{"s":"c2","x":95,"v":30000},{"s":"c2","x":96,"v":42000},
{"s":"c3","x":1,"v":0},{"s":"c3","x":25,"v":0},{"s":"c3","x":28,"v":35000},{"s":"c3","x":30,"v":60000},{"s":"c3","x":32,"v":20000},{"s":"c3","x":34,"v":0},{"s":"c3","x":36,"v":30000},{"s":"c3","x":38,"v":70000},{"s":"c3","x":40,"v":50000},{"s":"c3","x":42,"v":10000},{"s":"c3","x":44,"v":50000},{"s":"c3","x":46,"v":80000},{"s":"c3","x":48,"v":10000},{"s":"c3","x":50,"v":0},{"s":"c3","x":52,"v":45000},{"s":"c3","x":54,"v":20000},{"s":"c3","x":56,"v":0},{"s":"c3","x":58,"v":60000},{"s":"c3","x":60,"v":40000},{"s":"c3","x":62,"v":0},{"s":"c3","x":64,"v":40000},{"s":"c3","x":66,"v":25000},{"s":"c3","x":68,"v":70000},{"s":"c3","x":70,"v":20000},{"s":"c3","x":72,"v":0},{"s":"c3","x":74,"v":45000},{"s":"c3","x":76,"v":0},{"s":"c3","x":78,"v":30000},{"s":"c3","x":80,"v":65000},{"s":"c3","x":82,"v":20000},{"s":"c3","x":84,"v":55000},{"s":"c3","x":86,"v":0},{"s":"c3","x":88,"v":50000},{"s":"c3","x":90,"v":30000},{"s":"c3","x":92,"v":0},{"s":"c3","x":94,"v":40000},{"s":"c3","x":96,"v":0},
{"s":"c6","x":1,"v":0},{"s":"c6","x":33,"v":0},{"s":"c6","x":35,"v":25000},{"s":"c6","x":40,"v":20000},{"s":"c6","x":45,"v":25000},{"s":"c6","x":47,"v":0},{"s":"c6","x":53,"v":0},{"s":"c6","x":55,"v":30000},{"s":"c6","x":60,"v":30000},{"s":"c6","x":62,"v":0},{"s":"c6","x":70,"v":0},{"s":"c6","x":72,"v":25000},{"s":"c6","x":75,"v":30000},{"s":"c6","x":80,"v":28000},{"s":"c6","x":82,"v":0},{"s":"c6","x":96,"v":0},
{"s":"c5","x":1,"v":12000},{"s":"c5","x":3,"v":10000},{"s":"c5","x":5,"v":7000},{"s":"c5","x":8,"v":5000},{"s":"c5","x":12,"v":4000},{"s":"c5","x":15,"v":3000},{"s":"c5","x":17,"v":0},{"s":"c5","x":25,"v":0},{"s":"c5","x":32,"v":0},{"s":"c5","x":35,"v":20000},{"s":"c5","x":38,"v":28000},{"s":"c5","x":40,"v":30000},{"s":"c5","x":43,"v":28000},{"s":"c5","x":46,"v":30000},{"s":"c5","x":48,"v":28000},{"s":"c5","x":50,"v":27000},{"s":"c5","x":52,"v":28000},{"s":"c5","x":55,"v":30000},{"s":"c5","x":58,"v":30000},{"s":"c5","x":60,"v":29000},{"s":"c5","x":62,"v":28000},{"s":"c5","x":65,"v":25000},{"s":"c5","x":68,"v":15000},{"s":"c5","x":70,"v":10000},{"s":"c5","x":73,"v":25000},{"s":"c5","x":76,"v":28000},{"s":"c5","x":78,"v":30000},{"s":"c5","x":80,"v":28000},{"s":"c5","x":82,"v":20000},{"s":"c5","x":85,"v":15000},{"s":"c5","x":88,"v":13000},{"s":"c5","x":92,"v":12000},{"s":"c5","x":95,"v":11000}
]},
"vconcat": [
{
"hconcat": [
{"width": 80, "height": 223, "data": {"name": "d"},
 "transform": [{"filter": {"field": "s", "oneOf": ["h1","h2","o","t"]}}],
 "mark": {"type": "line", "strokeWidth": 2.6, "opacity": 0.8},
 "encoding": {
  "x": {"field": "x", "type": "quantitative", "scale": {"domain": [-3.75, 100.75], "nice": false, "zero": false}, "axis": {"title": "x", "values": [0,12.5,25,37.5,50,62.5,75,87.5,100], "format": "d", "labelExpr": "datum.value % 25 == 0 ? datum.label : ''", "gridWidth": {"condition": {"test": "datum.value % 25 != 0", "value": 0.55}, "value": 1.1}, "tickOpacity": {"condition": {"test": "datum.value % 25 != 0", "value": 0}, "value": 1}}},
  "y": {"field": "v", "type": "quantitative", "scale": {"domain": [-7000, 158900], "nice": false}, "axis": {"title": "value", "values": [0,25000,50000,75000,100000,125000,150000], "format": "d", "labelExpr": "datum.value % 50000 == 0 ? datum.label : ''", "gridWidth": {"condition": {"test": "datum.value % 50000 != 0", "value": 0.55}, "value": 1.1}, "tickOpacity": {"condition": {"test": "datum.value % 50000 != 0", "value": 0}, "value": 1}}},
  "color": {"field": "s", "type": "nominal", "scale": {"domain": ["h1","h2","o","t"], "range": ["#333333","#FF3333","#33CC33","#3333FF"]}, "legend": {"title": "Group", "orient": "none", "legendX": 90, "legendY": 55, "padding": 10, "labelExpr": "datum.label == 'h1' ? '1' : datum.label == 'h2' ? '2' : datum.label == 'o' ? '3' : '4'"}},
  "strokeDash": {"field": "s", "type": "nominal", "scale": {"domain": ["h1","h2","o","t"], "range": [[1,0],[4,3],[11,4,4,4],[9,5]]}, "legend": {"title": "Group", "orient": "none", "legendX": 90, "legendY": 55, "padding": 10, "labelExpr": "datum.label == 'h1' ? '1' : datum.label == 'h2' ? '2' : datum.label == 'o' ? '3' : '4'"}}
 }},
{"width": 140, "height": 223, "data": {"name": "d"},
 "transform": [{"filter": {"field": "s", "oneOf": ["gd","gf","gh","gc","ge","gb","gg","ga"]}}],
 "mark": {"type": "line", "strokeWidth": 2.6, "opacity": 0.8},
 "encoding": {
  "x": {"field": "x", "type": "quantitative", "scale": {"domain": [-3.75, 100.75], "nice": false, "zero": false}, "axis": {"title": "x", "values": [0,12.5,25,37.5,50,62.5,75,87.5,100], "format": "d", "labelExpr": "datum.value % 25 == 0 ? datum.label : ''", "gridWidth": {"condition": {"test": "datum.value % 25 != 0", "value": 0.55}, "value": 1.1}, "tickOpacity": {"condition": {"test": "datum.value % 25 != 0", "value": 0}, "value": 1}}},
  "y": {"field": "v", "type": "quantitative", "scale": {"domain": [-7000, 158900], "nice": false}, "axis": {"title": "value", "values": [0,25000,50000,75000,100000,125000,150000], "format": "d", "labelExpr": "datum.value % 50000 == 0 ? datum.label : ''", "gridWidth": {"condition": {"test": "datum.value % 50000 != 0", "value": 0.55}, "value": 1.1}, "tickOpacity": {"condition": {"test": "datum.value % 50000 != 0", "value": 0}, "value": 1}}},
  "color": {"field": "s", "type": "nominal", "scale": {"domain": ["gd","gf","gh","gc","ge","gb","gg","ga"], "range": ["#CDCDCD","#DADADA","#D0D0D0","#B8B8B8","#A4A4A4","#8E8E8E","#5E5E5E","#3A3A3A"]}, "legend": null}
 }},
{"width": 140, "height": 223, "data": {"name": "d"},
 "transform": [{"filter": {"field": "s", "oneOf": ["p1","p2","p3","p4","p5"]}}],
 "mark": {"type": "line", "strokeWidth": 2.6, "opacity": 0.8},
 "encoding": {
  "x": {"field": "x", "type": "quantitative", "scale": {"domain": [-3.75, 100.75], "nice": false, "zero": false}, "axis": {"title": "x", "values": [0,12.5,25,37.5,50,62.5,75,87.5,100], "format": "d", "labelExpr": "datum.value % 25 == 0 ? datum.label : ''", "gridWidth": {"condition": {"test": "datum.value % 25 != 0", "value": 0.55}, "value": 1.1}, "tickOpacity": {"condition": {"test": "datum.value % 25 != 0", "value": 0}, "value": 1}}},
  "y": {"field": "v", "type": "quantitative", "scale": {"domain": [-7000, 158900], "nice": false}, "axis": {"title": "value", "values": [0,25000,50000,75000,100000,125000,150000], "format": "d", "labelExpr": "datum.value % 50000 == 0 ? datum.label : ''", "gridWidth": {"condition": {"test": "datum.value % 50000 != 0", "value": 0.55}, "value": 1.1}, "tickOpacity": {"condition": {"test": "datum.value % 50000 != 0", "value": 0}, "value": 1}}},
  "color": {"field": "s", "type": "nominal", "scale": {"domain": ["p1","p2","p3","p4","p5"], "range": ["#F98AAB","#EA8A50","#F4826F","#E98D55","#F8766D"]}, "legend": null}
 }},
{"width": 140, "height": 223, "data": {"name": "d"},
 "transform": [{"filter": {"field": "s", "oneOf": ["o"]}}],
 "mark": {"type": "line", "strokeWidth": 2.6, "opacity": 0.85, "color": "#B5B53A"},
 "encoding": {
  "x": {"field": "x", "type": "quantitative", "scale": {"domain": [-3.75, 100.75], "nice": false, "zero": false}, "axis": {"title": "x", "values": [0,12.5,25,37.5,50,62.5,75,87.5,100], "format": "d", "labelExpr": "datum.value % 25 == 0 ? datum.label : ''", "gridWidth": {"condition": {"test": "datum.value % 25 != 0", "value": 0.55}, "value": 1.1}, "tickOpacity": {"condition": {"test": "datum.value % 25 != 0", "value": 0}, "value": 1}}},
  "y": {"field": "v", "type": "quantitative", "scale": {"domain": [-7000, 158900], "nice": false}, "axis": {"title": "value", "values": [0,25000,50000,75000,100000,125000,150000], "format": "d", "labelExpr": "datum.value % 50000 == 0 ? datum.label : ''", "gridWidth": {"condition": {"test": "datum.value % 50000 != 0", "value": 0.55}, "value": 1.1}, "tickOpacity": {"condition": {"test": "datum.value % 50000 != 0", "value": 0}, "value": 1}}}
 }},
{"width": 140, "height": 223, "data": {"name": "d"},
 "transform": [{"filter": {"field": "s", "oneOf": ["t"]}}],
 "mark": {"type": "line", "strokeWidth": 2.6, "opacity": 0.85, "color": "#3FCFB9"},
 "encoding": {
  "x": {"field": "x", "type": "quantitative", "scale": {"domain": [-3.75, 100.75], "nice": false, "zero": false}, "axis": {"title": "x", "values": [0,12.5,25,37.5,50,62.5,75,87.5,100], "format": "d", "labelExpr": "datum.value % 25 == 0 ? datum.label : ''", "gridWidth": {"condition": {"test": "datum.value % 25 != 0", "value": 0.55}, "value": 1.1}, "tickOpacity": {"condition": {"test": "datum.value % 25 != 0", "value": 0}, "value": 1}}},
  "y": {"field": "v", "type": "quantitative", "scale": {"domain": [-7000, 158900], "nice": false}, "axis": {"title": "value", "values": [0,25000,50000,75000,100000,125000,150000], "format": "d", "labelExpr": "datum.value % 50000 == 0 ? datum.label : ''", "gridWidth": {"condition": {"test": "datum.value % 50000 != 0", "value": 0.55}, "value": 1.1}, "tickOpacity": {"condition": {"test": "datum.value % 50000 != 0", "value": 0}, "value": 1}}}
 }}
],
"spacing": 4,
"title": {"text": "(a)\u00a0 Hierarchical", "orient": "bottom", "anchor": "middle", "offset": 24},
"resolve": {"scale": {"color": "independent", "strokeDash": "independent"}, "legend": {"color": "independent", "strokeDash": "independent"}}
},
{
"hconcat": [
{"width": 80, "height": 223, "data": {"name": "d"},
 "transform": [{"filter": {"field": "s", "oneOf": ["k1","k2","k3","k4"]}}],
 "mark": {"type": "line", "strokeWidth": 2.6, "opacity": 0.8},
 "encoding": {
  "x": {"field": "x", "type": "quantitative", "scale": {"domain": [-3.75, 100.75], "nice": false, "zero": false}, "axis": {"title": "x", "values": [0,12.5,25,37.5,50,62.5,75,87.5,100], "format": "d", "labelExpr": "datum.value % 25 == 0 ? datum.label : ''", "gridWidth": {"condition": {"test": "datum.value % 25 != 0", "value": 0.55}, "value": 1.1}, "tickOpacity": {"condition": {"test": "datum.value % 25 != 0", "value": 0}, "value": 1}}},
  "y": {"field": "v", "type": "quantitative", "scale": {"domain": [-7000, 158900], "nice": false}, "axis": {"title": "value", "values": [0,25000,50000,75000,100000,125000,150000], "format": "d", "labelExpr": "datum.value % 50000 == 0 ? datum.label : ''", "gridWidth": {"condition": {"test": "datum.value % 50000 != 0", "value": 0.55}, "value": 1.1}, "tickOpacity": {"condition": {"test": "datum.value % 50000 != 0", "value": 0}, "value": 1}}},
  "color": {"field": "s", "type": "nominal", "scale": {"domain": ["k1","k2","k3","k4"], "range": ["#333333","#FF3333","#33CC33","#3333FF"]}, "legend": {"title": "Group", "orient": "none", "legendX": 90, "legendY": 55, "padding": 10, "labelExpr": "replace(datum.label, 'k', '')"}},
  "strokeDash": {"field": "s", "type": "nominal", "scale": {"domain": ["k1","k2","k3","k4"], "range": [[1,0],[4,3],[11,4,4,4],[9,5]]}, "legend": {"title": "Group", "orient": "none", "legendX": 90, "legendY": 55, "padding": 10, "labelExpr": "replace(datum.label, 'k', '')"}}
 }},
{"width": 140, "height": 223, "data": {"name": "d"},
 "transform": [{"filter": {"field": "s", "oneOf": ["p2","p3","p4","gc","ge","gb","gg","p1","ga"]}}],
 "mark": {"type": "line", "strokeWidth": 2.6, "opacity": 0.8},
 "encoding": {
  "x": {"field": "x", "type": "quantitative", "scale": {"domain": [-3.75, 100.75], "nice": false, "zero": false}, "axis": {"title": "x", "values": [0,12.5,25,37.5,50,62.5,75,87.5,100], "format": "d", "labelExpr": "datum.value % 25 == 0 ? datum.label : ''", "gridWidth": {"condition": {"test": "datum.value % 25 != 0", "value": 0.55}, "value": 1.1}, "tickOpacity": {"condition": {"test": "datum.value % 25 != 0", "value": 0}, "value": 1}}},
  "y": {"field": "v", "type": "quantitative", "scale": {"domain": [-7000, 158900], "nice": false}, "axis": {"title": "value", "values": [0,25000,50000,75000,100000,125000,150000], "format": "d", "labelExpr": "datum.value % 50000 == 0 ? datum.label : ''", "gridWidth": {"condition": {"test": "datum.value % 50000 != 0", "value": 0.55}, "value": 1.1}, "tickOpacity": {"condition": {"test": "datum.value % 50000 != 0", "value": 0}, "value": 1}}},
  "color": {"field": "s", "type": "nominal", "scale": {"domain": ["p2","p3","p4","gc","ge","gb","gg","p1","ga"], "range": ["#C8C8C8","#B0B0B0","#D2D2D2","#BDBDBD","#A6A6A6","#9C9C9C","#6A6A6A","#7C7C7C","#3C3C3C"]}, "legend": null}
 }},
{"width": 140, "height": 223, "data": {"name": "d"},
 "transform": [{"filter": {"field": "s", "oneOf": ["q1","q5","q2","q4","q3","q6"]}}],
 "mark": {"type": "line", "strokeWidth": 2.6, "opacity": 0.8},
 "encoding": {
  "x": {"field": "x", "type": "quantitative", "scale": {"domain": [-3.75, 100.75], "nice": false, "zero": false}, "axis": {"title": "x", "values": [0,12.5,25,37.5,50,62.5,75,87.5,100], "format": "d", "labelExpr": "datum.value % 25 == 0 ? datum.label : ''", "gridWidth": {"condition": {"test": "datum.value % 25 != 0", "value": 0.55}, "value": 1.1}, "tickOpacity": {"condition": {"test": "datum.value % 25 != 0", "value": 0}, "value": 1}}},
  "y": {"field": "v", "type": "quantitative", "scale": {"domain": [-7000, 158900], "nice": false}, "axis": {"title": "value", "values": [0,25000,50000,75000,100000,125000,150000], "format": "d", "labelExpr": "datum.value % 50000 == 0 ? datum.label : ''", "gridWidth": {"condition": {"test": "datum.value % 50000 != 0", "value": 0.55}, "value": 1.1}, "tickOpacity": {"condition": {"test": "datum.value % 50000 != 0", "value": 0}, "value": 1}}},
  "color": {"field": "s", "type": "nominal", "scale": {"domain": ["q1","q5","q2","q4","q3","q6"], "range": ["#F7868C","#F48A6A","#EE8644","#F0824E","#F8766D","#F8766D"]}, "legend": null}
 }},
{"width": 140, "height": 223, "data": {"name": "d"},
 "transform": [{"filter": {"field": "s", "oneOf": ["o","t"]}}],
 "mark": {"type": "line", "strokeWidth": 2.6, "opacity": 0.85},
 "encoding": {
  "x": {"field": "x", "type": "quantitative", "scale": {"domain": [-3.75, 100.75], "nice": false, "zero": false}, "axis": {"title": "x", "values": [0,12.5,25,37.5,50,62.5,75,87.5,100], "format": "d", "labelExpr": "datum.value % 25 == 0 ? datum.label : ''", "gridWidth": {"condition": {"test": "datum.value % 25 != 0", "value": 0.55}, "value": 1.1}, "tickOpacity": {"condition": {"test": "datum.value % 25 != 0", "value": 0}, "value": 1}}},
  "y": {"field": "v", "type": "quantitative", "scale": {"domain": [-7000, 158900], "nice": false}, "axis": {"title": "value", "values": [0,25000,50000,75000,100000,125000,150000], "format": "d", "labelExpr": "datum.value % 50000 == 0 ? datum.label : ''", "gridWidth": {"condition": {"test": "datum.value % 50000 != 0", "value": 0.55}, "value": 1.1}, "tickOpacity": {"condition": {"test": "datum.value % 50000 != 0", "value": 0}, "value": 1}}},
  "color": {"field": "s", "type": "nominal", "scale": {"domain": ["o","t"], "range": ["#B5B53A","#3FCFB9"]}, "legend": null}
 }},
{"width": 140, "height": 223, "data": {"name": "d"},
 "transform": [{"filter": {"field": "s", "oneOf": ["c7","c1","c4","c2","c3","c6","c5"]}}],
 "mark": {"type": "line", "strokeWidth": 2.6, "opacity": 0.8},
 "encoding": {
  "x": {"field": "x", "type": "quantitative", "scale": {"domain": [-3.75, 100.75], "nice": false, "zero": false}, "axis": {"title": "x", "values": [0,12.5,25,37.5,50,62.5,75,87.5,100], "format": "d", "labelExpr": "datum.value % 25 == 0 ? datum.label : ''", "gridWidth": {"condition": {"test": "datum.value % 25 != 0", "value": 0.55}, "value": 1.1}, "tickOpacity": {"condition": {"test": "datum.value % 25 != 0", "value": 0}, "value": 1}}},
  "y": {"field": "v", "type": "quantitative", "scale": {"domain": [-7000, 158900], "nice": false}, "axis": {"title": "value", "values": [0,25000,50000,75000,100000,125000,150000], "format": "d", "labelExpr": "datum.value % 50000 == 0 ? datum.label : ''", "gridWidth": {"condition": {"test": "datum.value % 50000 != 0", "value": 0.55}, "value": 1.1}, "tickOpacity": {"condition": {"test": "datum.value % 50000 != 0", "value": 0}, "value": 1}}},
  "color": {"field": "s", "type": "nominal", "scale": {"domain": ["c7","c1","c4","c2","c3","c6","c5"], "range": ["#619CFF","#2FBFB0","#2EC3A4","#3DB9EE","#22AEEA","#8C97FF","#A98BFF"]}, "legend": null}
 }}
],
"spacing": 4,
"title": {"text": "(b)\u00a0 K-means", "orient": "bottom", "anchor": "middle", "offset": 22},
"resolve": {"scale": {"color": "independent", "strokeDash": "independent"}, "legend": {"color": "independent", "strokeDash": "independent"}}
}
],
"spacing": 19,
"resolve": {"scale": {"color": "independent", "strokeDash": "independent"}, "legend": {"color": "independent", "strokeDash": "independent"}},
"config": {
 "view": {"fill": "#EBEBEB", "stroke": null},
 "axis": {"gridColor": "#FFFFFF", "domain": false, "tickColor": "#333333", "tickSize": 3, "tickWidth": 1, "labelColor": "#4D4D4D", "labelFont": "Liberation Sans", "labelFontSize": 11.5, "labelPadding": 2, "titleFont": "Liberation Sans", "titleFontSize": 12.5, "titleFontWeight": "normal", "titleColor": "#000000", "labelOverlap": false, "labelFlush": false},
 "axisY": {"titlePadding": 5},
 "axisX": {"titlePadding": 4},
 "legend": {"titleFont": "Liberation Sans", "titleFontSize": 12.5, "titleFontWeight": "normal", "titleColor": "#000000", "labelFont": "Liberation Sans", "labelFontSize": 11, "labelColor": "#000000", "symbolSize": 380, "symbolStrokeWidth": 2.5, "rowPadding": 6, "titlePadding": 6, "labelOffset": 8},
 "title": {"font": "Liberation Serif", "fontSize": 21, "fontWeight": "normal", "color": "#000000"}
}
}
